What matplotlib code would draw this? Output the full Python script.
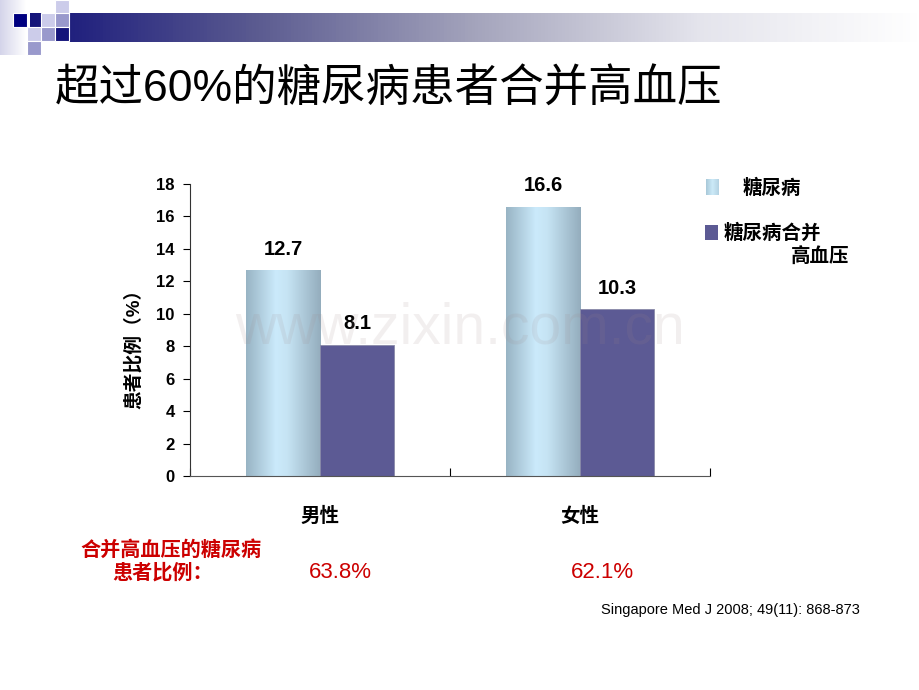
import matplotlib.pyplot as plt
import numpy as np
from matplotlib.colors import LinearSegmentedColormap
from matplotlib.patches import Rectangle

plt.rcParams["font.family"] = ["Liberation Sans", "Noto Sans CJK SC"]

categories = ["男性", "女性"]
series_names = ["糖尿病", "糖尿病合并\n高血压"]
diabetes = [12.7, 16.6]
diabetes_htn = [8.1, 10.3]
htn_share = ["63.8%", "62.1%"]
yticks = [0, 2, 4, 6, 8, 10, 12, 14, 16, 18]

W, H = 920, 690
fig = plt.figure(figsize=(W / 100, H / 100), dpi=100)

# slide decoration in pixel coordinates
deco = fig.add_axes([0, 0, 1, 1])
deco.set_xlim(0, W)
deco.set_ylim(H, 0)
deco.axis("off")
deco.set_zorder(-1)

bar_cmap = LinearSegmentedColormap.from_list("hdr", ["#14147a", "#5a5a90", "#a4a4bc", "#e4e4ec", "#ffffff"])
grad = np.linspace(0, 1, 256).reshape(1, -1)
deco.imshow(grad, cmap=bar_cmap, extent=[30, W, 42, 13], aspect="auto")
side = LinearSegmentedColormap.from_list("side", ["#d4d4ea", "#ffffff"])
deco.imshow(grad, cmap=side, extent=[0, 26, 55, 0], aspect="auto")
squares = [
    (13, 13, "#000080"), (55, 0, "#ccccea"), (41, 13, "#ccccea"), (55, 13, "#9999cc"),
    (27, 27, "#ccccea"), (41, 27, "#9999cc"), (55, 27, "#14147a"), (27, 41, "#9999cc"),
]
for x, y, c in squares:
    deco.add_patch(Rectangle((x, y), 14, 14, facecolor=c, edgecolor="white", lw=0.8))

fig.text(55 / W, 1 - 90 / H, "超过60%的糖尿病患者合并高血压", fontsize=32, va="center", color="black")

ax = fig.add_axes([190 / W, 1 - 476 / H, 520 / W, 292 / H])
ax.set_xlim(-0.5, 1.5)
ax.set_ylim(0, 18)
x = np.arange(len(categories))
bw = 0.285

light = LinearSegmentedColormap.from_list(
    "light", [(0, "#98b4c4"), (0.4, "#cbeafb"), (0.55, "#c6e4f4"), (1, "#94adbd")])
bars1 = ax.bar(x - bw / 2, diabetes, bw, color="none", edgecolor="none")
for b in bars1:
    im = ax.imshow(grad, cmap=light, aspect="auto", zorder=2,
                   extent=[b.get_x(), b.get_x() + b.get_width(), 0, b.get_height()])
    im.set_clip_path(b)
bars2 = ax.bar(x + bw / 2, diabetes_htn, bw, color="#5c5a94", edgecolor="#8a8aa8", lw=0.6, zorder=2)

for b in list(bars1) + list(bars2):
    ax.annotate(f"{b.get_height():.1f}", (b.get_x() + b.get_width() / 2, b.get_height()),
                xytext=(0, 15), textcoords="offset points", ha="center", va="center",
                fontsize=14.5, fontweight="bold")

ax.set_xlim(-0.5, 1.5)
ax.set_ylim(0, 18)
ax.set_yticks(yticks)
ax.tick_params(axis="y", labelsize=12, length=5, width=0.8, pad=6)
for t in ax.get_yticklabels():
    t.set_fontweight("bold")
ax.set_xticks([-0.5, 0.5, 1.5])
ax.set_xticklabels([])
ax.tick_params(axis="x", direction="in", length=6, width=0.8)
for s in ["top", "right"]:
    ax.spines[s].set_visible(False)
ax.spines["left"].set_color("#333333")
ax.spines["bottom"].set_color("#555555")
ax.set_ylabel("患者比例（%）", fontsize=13.5, fontweight="bold")
ax.yaxis.set_label_coords(-0.09, 0.45)

for xi, name in zip(x, categories):
    ax.text(xi, -2.5, name, ha="center", va="center", fontsize=14, fontweight="bold")

# legend
swatch = LinearSegmentedColormap.from_list("sw", ["#a8c8d8", "#cceaf8", "#b4d2e2"])
leg = fig.add_axes([706 / W, 1 - 195 / H, 12 / W, 16 / H])
leg.imshow(grad, cmap=swatch, aspect="auto")
leg.axis("off")
fig.patches.append(Rectangle((705 / W, 1 - 240 / H), 13 / W, 15 / H, transform=fig.transFigure,
                             facecolor="#5c5a94", edgecolor="none"))
fig.text(743 / W, 1 - 188 / H, series_names[0], fontsize=14, fontweight="bold", va="center")
first, second = series_names[1].split("\n")
fig.text(724 / W, 1 - 233 / H, first, fontsize=14, fontweight="bold", va="center")
fig.text(791 / W, 1 - 257 / H, second, fontsize=14, fontweight="bold", va="center")

red = "#cc0000"
fig.text(80 / W, 1 - 550 / H, "合并高血压的糖尿病", fontsize=14.5, fontweight="bold", color=red, va="center")
fig.text(213 / W, 1 - 573 / H, "患者比例：", fontsize=14.5, fontweight="bold", color=red, va="center", ha="right")
for xi, s in zip([340, 602], htn_share):
    fig.text(xi / W, 1 - 573 / H, s, fontsize=16, color=red, va="center", ha="center")

fig.text(860 / W, 1 - 610 / H, "Singapore Med J 2008; 49(11): 868-873", fontsize=10.5, ha="right", va="center")

fig.text(460 / W, 1 - 328 / H, "www.zixin.com.cn", fontsize=41, color="#a08888", alpha=0.13,
         ha="center", va="center", zorder=10)

fig.savefig("out.png", dpi=100, facecolor="white")
